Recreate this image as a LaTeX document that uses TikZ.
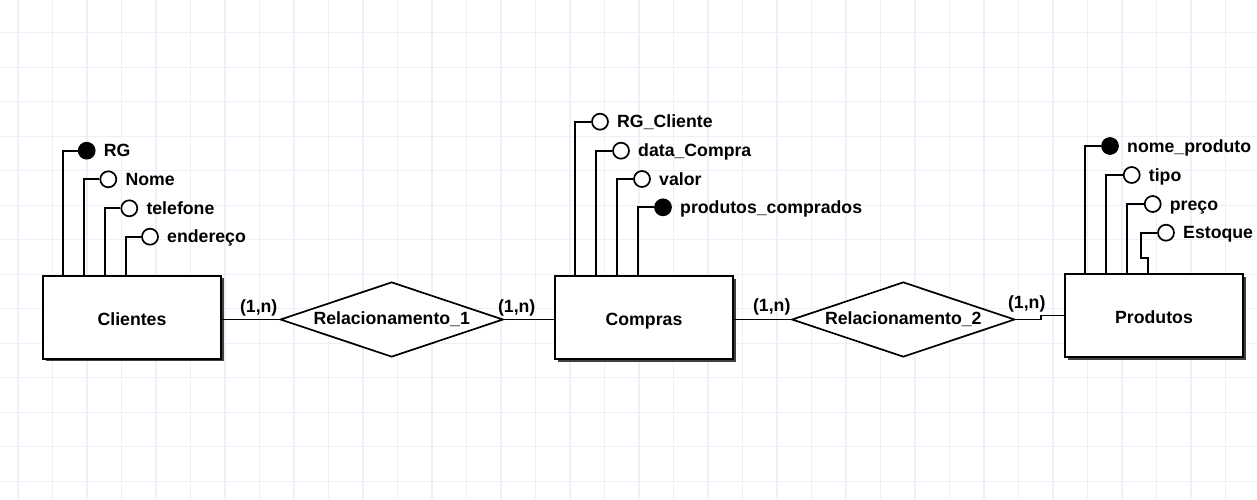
\documentclass[tikz,border=0pt]{standalone}
\usepackage{fontspec}
\setmainfont{Liberation Sans}
\usetikzlibrary{positioning, shapes.geometric, shadows}
\definecolor{gridblue}{RGB}{236,241,249}

\begin{document}
\begin{tikzpicture}[x=1pt, y=-1pt, line width=1.7pt, >=latex,
    font=\fontsize{17.7}{20}\selectfont\bfseries,
    gridline/.style={draw=gridblue, line width=1.3pt},
    entity/.style={draw, rectangle, fill=white, minimum width=178pt, minimum height=83pt,
        text height=16pt, text depth=0pt,
        drop shadow={shadow xshift=2.5pt, shadow yshift=-2.5pt, fill=black!75, opacity=1}},
    relation/.style={draw, diamond, aspect=3, fill=white, inner sep=0pt, minimum width=223pt, minimum height=75pt},
    attr/.style={draw, circle, fill=white, inner sep=0pt, minimum size=16pt},
    keyattr/.style={attr, fill=black},
    attrname/.style={inner sep=0pt, text height=12.5pt, text depth=0pt},
    card/.style={inner sep=0pt}]

        \useasboundingbox (0,0) rectangle (1257,499);
        \fill[white] (0,0) rectangle (1257,499);

        % grid
        \foreach \i in {0,...,35}
            \draw[gridline] ({18+34.5*\i},0) -- ({18+34.5*\i},499);
        \foreach \j in {0,...,13}
            \draw[gridline] (0,{32.7+34.5*\j}) -- (1257,{32.7+34.5*\j});

        % entities and relationships
        \node[entity] (clientes) at (132,317.3) {Clientes};
        \node[entity] (compras) at (644,317.5) {Compras};
        \node[entity] (produtos) at (1154,315.5) {Produtos};

        \node[relation] (rel1) at (391.7,319.5) {Relacionamento\_1};
        \node[relation] (rel2) at (903.3,319.5) {Relacionamento\_2};

        \draw (rel1.west) -- (rel1.west -| clientes.east);
        \draw (rel1.east) -- (rel1.east -| compras.west);
        \draw (rel2.west) -- (rel2.west -| compras.east);
        \draw (rel2.east) -- ++(25,0) |- (produtos.west);

        \node[card] (card1) at (258.7,307.5) {(1,n)};
        \node[card] (card2) at (516.7,307.5) {(1,n)};
        \node[card] (card3) at (771.7,307) {(1,n)};
        \node[card] (card4) at (1026.7,304) {(1,n)};

        % Clientes attributes
        \node[keyattr] (rg) at (86.7,150.7) {};
        \node[attrname, right=7.5pt of rg] (rgname) {RG};
        \node[attr] (nome) at (108.3,179.3) {};
        \node[attrname, right=7.5pt of nome] (nomename) {Nome};
        \node[attr] (telefone) at (129.3,208.3) {};
        \node[attrname, right=7.5pt of telefone] (telefonename) {telefone};
        \node[attr] (endereco) at (150,236.7) {};
        \node[attrname, right=7.5pt of endereco] (endereconame) {endereço};

        \draw (rg.west) -| ([xshift=21pt]clientes.north west);
        \draw (nome.west) -| ([xshift=42pt]clientes.north west);
        \draw (telefone.west) -| ([xshift=63pt]clientes.north west);
        \draw (endereco.west) -| ([xshift=84pt]clientes.north west);

        % Compras attributes
        \node[attr] (rgcli) at (600,121.7) {};
        \node[attrname, right=7.5pt of rgcli] (rgcliname) {RG\_Cliente};
        \node[attr] (data) at (621,150.7) {};
        \node[attrname, right=7.5pt of data] (dataname) {data\_Compra};
        \node[attr] (valor) at (642,179) {};
        \node[attrname, right=7.5pt of valor] (valorname) {valor};
        \node[keyattr] (prodcomp) at (663,207.3) {};
        \node[attrname, right=7.5pt of prodcomp] (prodcompname) {produtos\_comprados};

        \draw (rgcli.west) -| ([xshift=21pt]compras.north west);
        \draw (data.west) -| ([xshift=42pt]compras.north west);
        \draw (valor.west) -| ([xshift=63pt]compras.north west);
        \draw (prodcomp.west) -| ([xshift=84pt]compras.north west);

        % Produtos attributes
        \node[keyattr] (nomeprod) at (1110,146) {};
        \node[attrname, right=7.5pt of nomeprod] (nomeprodname) {nome\_produto};
        \node[attr] (tipo) at (1131.7,175) {};
        \node[attrname, right=7.5pt of tipo] (tiponame) {tipo};
        \node[attr] (preco) at (1152.7,204) {};
        \node[attrname, right=7.5pt of preco] (preconame) {preço};
        \node[attr] (estoque) at (1166,232.7) {};
        \node[attrname, right=7.5pt of estoque] (estoquename) {Estoque};

        \draw (nomeprod.west) -| ([xshift=21pt]produtos.north west);
        \draw (tipo.west) -| ([xshift=42pt]produtos.north west);
        \draw (preco.west) -| ([xshift=63pt]produtos.north west);
        \draw ([xshift=84pt]produtos.north west) |- ++(-7.5,-15.5) |- (estoque.west);
    \end{tikzpicture}
\end{document}
